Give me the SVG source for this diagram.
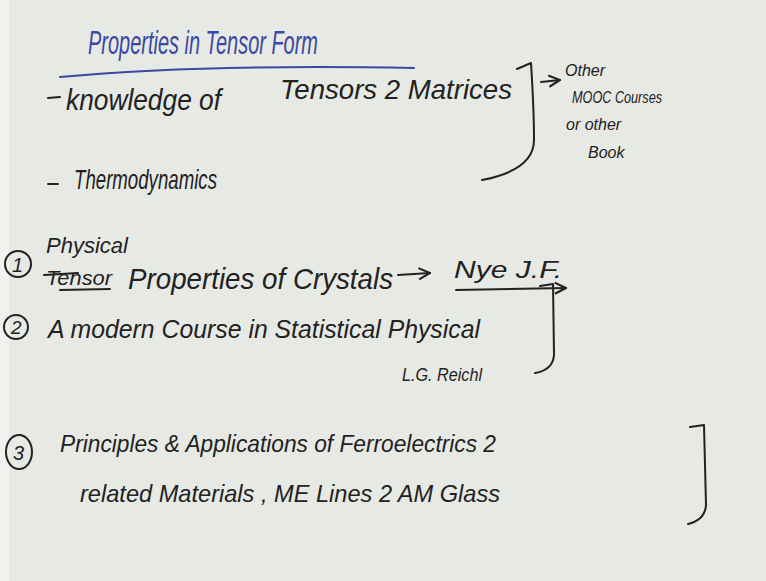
<svg xmlns="http://www.w3.org/2000/svg" width="766" height="581" viewBox="0 0 766 581">
<style>
.t{font-family:"Liberation Sans","DejaVu Sans",sans-serif;fill:#222;font-style:italic}
.b{fill:#3a48a2}
.s{fill:none;stroke:#222;stroke-width:2;stroke-linecap:round;stroke-linejoin:round}
.sb{fill:none;stroke:#3a48a2;stroke-width:2;stroke-linecap:round}
</style>
<defs>
<marker id="ah" viewBox="0 0 10 10" refX="9" refY="5" markerWidth="7" markerHeight="7" orient="auto"><path d="M1,1 L9,5 L1,9" fill="none" stroke="#222" stroke-width="1.5"/></marker>
</defs>
<rect width="766" height="581" fill="#e7e9e4"/>
<rect width="9" height="581" fill="#f1f2ef"/>

<g id="title">
<text class="t b" x="88" y="54" font-size="33" textLength="230" lengthAdjust="spacingAndGlyphs">Properties in Tensor Form</text>
<path class="sb" d="M60,77 Q200,64 414,68"/>
</g>

<g id="prereq">
<path class="s" d="M48,98 L60,97"/>
<text class="t" x="66" y="110" font-size="30" textLength="155" lengthAdjust="spacingAndGlyphs">knowledge of</text>
<text class="t" x="280" y="99" font-size="28" textLength="232" lengthAdjust="spacingAndGlyphs">Tensors 2 Matrices</text>
<path class="s" d="M48,184 L58,184"/>
<text class="t" x="74" y="189" font-size="28" textLength="143" lengthAdjust="spacingAndGlyphs">Thermodynamics</text>
</g>

<g id="connectors">
<path class="s" d="M517,69 L531,63 Q534,110 534,140 Q534,170 482,180"/>
<path class="s" d="M541,82 L560,80" marker-end="url(#ah)"/>
<path class="s" d="M398,275 L430,273" marker-end="url(#ah)"/>
<path class="s" d="M540,286 L553,284 L554,355 Q553,370 535,373"/>
<path class="s" d="M690,427 L704,425 L706,505 Q705,520 688,524"/>
</g>

<g id="other">
<text class="t" x="565" y="76" font-size="16">Other</text>
<text class="t" x="572" y="103" font-size="16" textLength="90" lengthAdjust="spacingAndGlyphs">MOOC Courses</text>
<text class="t" x="566" y="130" font-size="16">or other</text>
<text class="t" x="588" y="158" font-size="16">Book</text>
</g>

<g id="item1">
<circle class="s" cx="18" cy="264" r="13"/>
<text class="t" x="12" y="272" font-size="20">1</text>
<text class="t" x="46" y="253" font-size="22">Physical</text>
<text class="t" x="46" y="285" font-size="20" textLength="66" lengthAdjust="spacingAndGlyphs">Tensor</text>
<path class="s" d="M44,275 L78,273"/>
<path class="s" d="M60,290 L110,289"/>
<text class="t" x="128" y="289" font-size="30" textLength="265" lengthAdjust="spacingAndGlyphs">Properties of Crystals</text>
<text class="t" x="454" y="278" font-size="24" textLength="108" lengthAdjust="spacingAndGlyphs">Nye J.F.</text>
<path class="s" d="M456,290 L566,288" marker-end="url(#ah)"/>
</g>

<g id="item2">
<circle class="s" cx="16" cy="327" r="12"/>
<text class="t" x="11" y="334" font-size="19">2</text>
<text class="t" x="48" y="338" font-size="26" textLength="432" lengthAdjust="spacingAndGlyphs">A modern Course in Statistical Physical</text>
<text class="t" x="402" y="381" font-size="19" textLength="80" lengthAdjust="spacingAndGlyphs">L.G. Reichl</text>
</g>

<g id="item3">
<ellipse class="s" cx="19" cy="452" rx="13" ry="17"/>
<text class="t" x="13" y="460" font-size="20">3</text>
<text class="t" x="60" y="452" font-size="24" textLength="436" lengthAdjust="spacingAndGlyphs">Principles &amp; Applications of Ferroelectrics 2</text>
<text class="t" x="80" y="502" font-size="24" textLength="420" lengthAdjust="spacingAndGlyphs">related Materials , ME Lines 2 AM Glass</text>
</g>
</svg>
